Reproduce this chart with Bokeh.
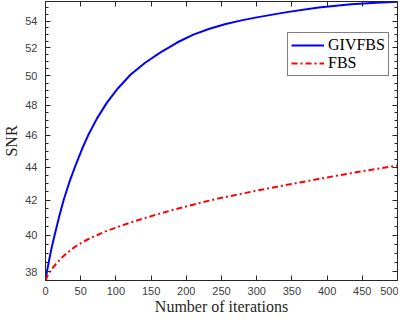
from bokeh.plotting import figure
from bokeh.models import (Range1d, FixedTicker, LinearAxis, LogAxis, Legend,
                          LegendItem, PrintfTickFormatter, CustomJSTickFormatter)
from bokeh.embed import file_html
from bokeh.resources import INLINE

# ---- data ----
iter_givfbs = [0, 2, 5, 9, 13.5, 20, 26, 34, 43, 52, 61.5, 73, 87, 103, 121,
               142, 164, 187, 210, 233, 256, 280, 300, 343, 388, 434, 470, 500]
snr_givfbs = [37.54, 38.0, 38.6, 39.35, 40.1, 41.15, 42.05, 43.1, 44.15, 45.15,
              46.1, 47.1, 48.15, 49.15, 50.1, 50.95, 51.7, 52.4, 52.98, 53.42,
              53.78, 54.07, 54.28, 54.68, 55.03, 55.28, 55.41, 55.48]

iter_fbs = [0, 2, 5, 9, 15, 23, 31, 41, 52, 64, 87, 110, 132, 155, 178, 201,
            242, 300, 350, 393, 439, 500]
snr_fbs = [37.54, 37.72, 37.93, 38.15, 38.43, 38.75, 39.03, 39.33, 39.6,
           39.85, 40.24, 40.57, 40.86, 41.14, 41.41, 41.66, 42.08, 42.58,
           42.98, 43.32, 43.67, 44.1]

x_ticks = [0, 50, 100, 150, 200, 250, 300, 350, 400, 450, 500]
y_ticks = [38, 40, 42, 44, 46, 48, 50, 52, 54]
y_minor = [v / 2 for v in range(76, 111) if v % 4 != 0]

x_title = "Number of iterations"
y_title = "SNR"
names = ["GIVFBS", "FBS"]

AX = "#262626"
LBL = "#404040"

p = figure(width=398, height=317, output_backend="svg", toolbar_location=None,
           y_axis_type="log",
           x_range=Range1d(0, 500), y_range=Range1d(37.54, 55.5),
           min_border_left=36, min_border_right=1, min_border_top=1,
           min_border_bottom=30)
p.background_fill_color = "white"
p.border_fill_color = "white"
p.outline_line_color = AX
p.xgrid.visible = False
p.ygrid.visible = False

xt = FixedTicker(ticks=x_ticks, minor_ticks=[])
yt = FixedTicker(ticks=y_ticks, minor_ticks=y_minor)

def style(ax, labels=True):
    ax.axis_line_color = AX
    ax.major_tick_line_color = AX
    ax.minor_tick_line_color = AX
    ax.major_tick_in = 5
    ax.major_tick_out = 0
    ax.minor_tick_in = 3
    ax.minor_tick_out = 0
    if labels:
        ax.major_label_text_font = "Liberation Sans"
        ax.major_label_text_font_size = "11px"
        ax.major_label_text_color = LBL
        ax.axis_label_text_font = "Liberation Serif"
        ax.axis_label_text_font_size = "16px"
        ax.axis_label_text_font_style = "normal"
        ax.axis_label_text_color = AX
    else:
        ax.formatter = CustomJSTickFormatter(code="return ''")
        ax.major_label_standoff = 0

xa = p.xaxis[0]
xa.ticker = xt
xa.axis_label = x_title
style(xa)
xa.major_label_standoff = 6
xa.axis_label_standoff = 0
xa.axis_label_text_line_height = 0.9
xa.major_label_text_line_height = 1.0

ya = p.yaxis[0]
ya.ticker = yt
ya.formatter = PrintfTickFormatter(format="%d")
ya.axis_label = y_title
style(ya)
ya.major_label_standoff = 8
ya.axis_label_standoff = 2

top = LinearAxis(ticker=FixedTicker(ticks=x_ticks, minor_ticks=[]))
style(top, labels=False)
p.add_layout(top, "above")

right = LogAxis(ticker=FixedTicker(ticks=y_ticks, minor_ticks=y_minor))
style(right, labels=False)
p.add_layout(right, "right")

r1 = p.line(iter_givfbs, snr_givfbs, line_color="#0000ff", line_width=2)
r2 = p.line(iter_fbs, snr_fbs, line_color="#ff0000", line_width=2,
            line_dash="6 3 2 3")

leg = Legend(items=[LegendItem(label=names[0], renderers=[r1]),
                    LegendItem(label=names[1], renderers=[r2])],
             location=(242, 204))
leg.label_text_font = "Liberation Serif"
leg.label_text_font_size = "16px"
leg.label_text_color = "black"
leg.border_line_color = "black"
leg.border_line_width = 1
leg.background_fill_color = "white"
leg.background_fill_alpha = 1
leg.padding = 3
leg.spacing = 0
leg.glyph_width = 33
leg.glyph_height = 18
leg.label_height = 18
leg.label_standoff = 4
leg.margin = 0
p.add_layout(leg, "center")

open("out.html", "w").write(file_html(p, INLINE))
